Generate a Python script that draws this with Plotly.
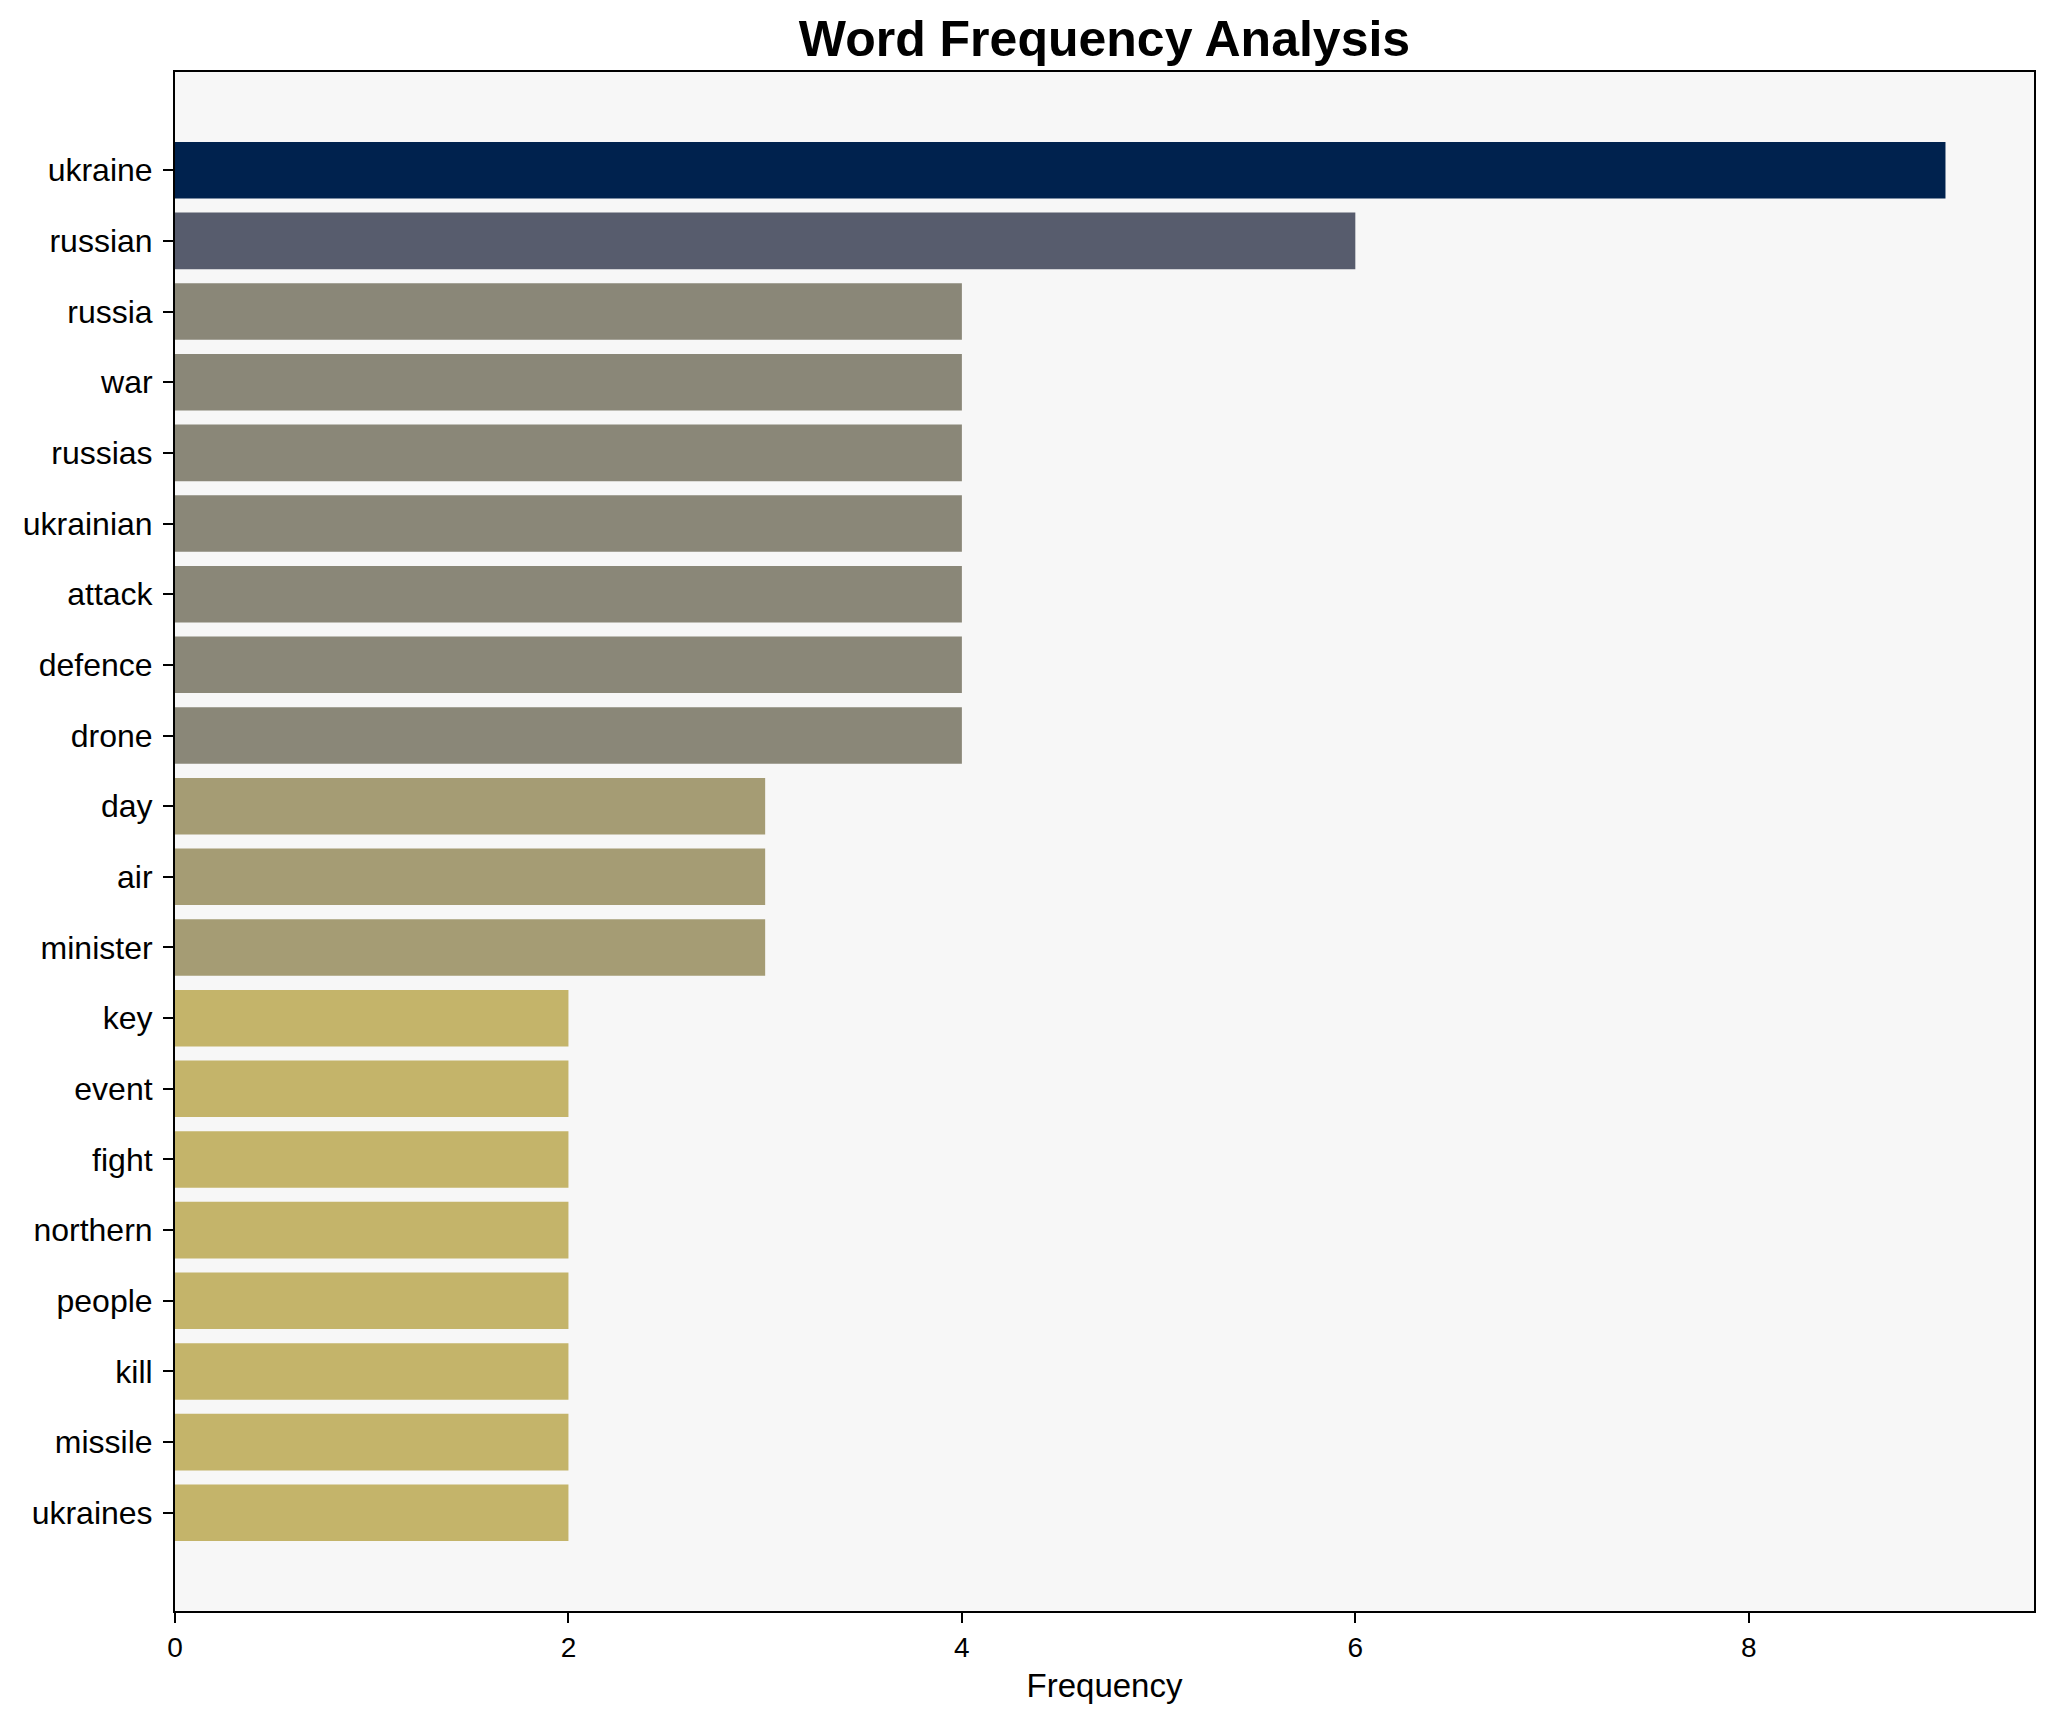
import plotly.graph_objects as go

words = ["ukraine", "russian", "russia", "war", "russias", "ukrainian", "attack",
         "defence", "drone", "day", "air", "minister", "key", "event", "fight",
         "northern", "people", "kill", "missile", "ukraines"]
counts = [9, 6, 4, 4, 4, 4, 4, 4, 4, 3, 3, 3, 2, 2, 2, 2, 2, 2, 2, 2]

# cividis colours sampled at 1 - count/max
color_by_count = {9: "#00224e", 6: "#575c6d", 4: "#8a8778", 3: "#a59c74", 2: "#c4b46a"}
colors = [color_by_count[c] for c in counts]

FONT = "Arial, Liberation Sans, Helvetica, sans-serif"

# page body has an 8px margin; compensate so the plot lands where the reference is
OFF = 8
W, H = 2054 - OFF, 1722 - OFF

fig = go.Figure(go.Bar(
    x=counts,
    y=words,
    orientation="h",
    marker=dict(color=colors, line=dict(width=0)),
    width=0.8,
))

fig.update_layout(
    width=W,
    height=H,
    margin=dict(l=174.5 - OFF, r=19.5, t=71.5 - OFF, b=110.5, pad=0),
    paper_bgcolor="white",
    plot_bgcolor="#f7f7f7",
    showlegend=False,
    title=dict(
        text="<b>Word Frequency Analysis</b>",
        font=dict(family=FONT, size=50, color="black"),
        x=0.5, xref="paper", xanchor="center",
        y=1 - (38 - OFF) / H, yref="container", yanchor="middle",
    ),
    font=dict(family=FONT, color="black"),
)

fig.update_xaxes(
    range=[0, 9.45],
    tickvals=[0, 2, 4, 6, 8],
    ticktext=["0", "2", "4", "6", "8"],
    ticks="outside", ticklen=10, tickwidth=2, tickcolor="black",
    tickfont=dict(family=FONT, size=28, color="black"),
    showline=True, linecolor="black", linewidth=2, mirror=True,
    showgrid=False, zeroline=False,
    title=dict(text="Frequency", font=dict(family=FONT, size=33, color="black"), standoff=12),
)

fig.update_yaxes(
    type="category",
    categoryorder="array", categoryarray=words,
    range=[20.39, -1.39],
    ticks="outside", ticklen=10, tickwidth=2, tickcolor="black",
    tickfont=dict(family=FONT, size=32, color="black"),
    showline=True, linecolor="black", linewidth=2, mirror=True,
    showgrid=False, zeroline=False,
    ticklabelstandoff=4,
)

fig.write_html("out.html")
